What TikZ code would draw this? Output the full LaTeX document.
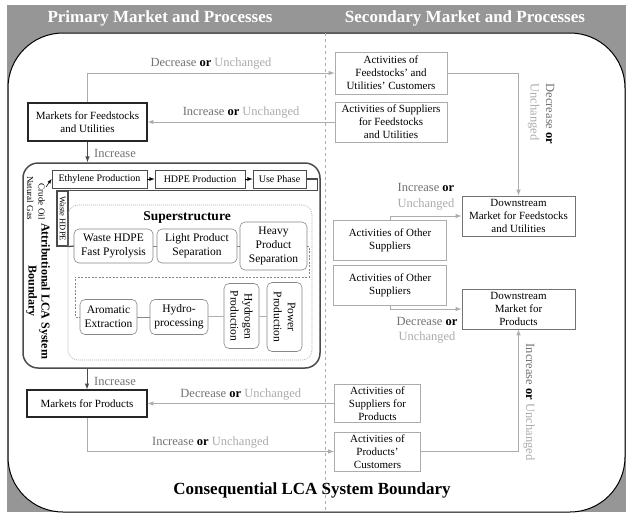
\documentclass[tikz,border=0pt]{standalone}
\usepackage{fontspec}
\setmainfont{Liberation Serif}
\usepackage{tikz}
\usetikzlibrary{arrows,shapes}
\definecolor{hdrgray}{RGB}{150,150,150}
\definecolor{midgray}{RGB}{115,115,115}
\definecolor{palegray}{RGB}{172,172,172}
\definecolor{darkline}{RGB}{75,75,75}
\definecolor{unitgray}{RGB}{135,135,135}
\newcommand{\hdrfont}{\fontsize{17}{20}\bfseries\selectfont}
\newcommand{\bndfont}{\fontsize{17}{20}\bfseries\selectfont}
\newcommand{\boxfont}{\fontsize{11}{13}\selectfont}
\newcommand{\procfont}{\fontsize{10}{12}\selectfont}
\newcommand{\unitfont}{\fontsize{11.5}{14}\selectfont}
\newcommand{\labfont}{\fontsize{12.5}{15.5}\selectfont}
\newcommand{\attrfont}{\fontsize{12}{13}\bfseries\selectfont}
\newcommand{\superfont}{\fontsize{13.5}{16}\bfseries\selectfont}
\newcommand{\feedfont}{\fontsize{9}{11.5}\selectfont}
\newcommand{\wastefont}{\fontsize{8.5}{10}\selectfont}
\newcommand{\trend}[1]{\textcolor{midgray}{#1} \textbf{or} \textcolor{palegray}{Unchanged}}
\newcommand{\trendtwo}[1]{\textcolor{midgray}{#1} \textbf{or}\\\textcolor{palegray}{Unchanged}}

\begin{document}
\begin{tikzpicture}[x=1pt, y=-1pt,
        mktbox/.style={draw=black!85, line width=1.3pt, fill=white, align=center, font=\boxfont, inner sep=1pt},
        actbox/.style={draw=palegray, line width=1pt, fill=white, align=center, font=\boxfont, inner sep=1pt},
        dsbox/.style={draw=midgray, line width=1pt, fill=white, align=center, font=\boxfont, inner sep=1pt},
        procbox/.style={draw=darkline, line width=0.8pt, minimum height=18pt, font=\procfont, inner sep=1pt},
        unitbox/.style={draw=unitgray, line width=0.6pt, rounded corners=5pt, align=center, font=\unitfont, inner sep=1pt},
        link/.style={draw=palegray, line width=1pt, -latex},
        incr/.style={draw=darkline, line width=1pt, -latex},
        unitlink/.style={draw=unitgray, line width=0.5pt},
        trendlab/.style={font=\labfont, inner sep=1pt}]
                %\draw[help lines] (0,0) grid (627,515);
                \useasboundingbox (0,0) rectangle (627,515);
                \fill[hdrgray] (7,5) rectangle (626,512);
                \draw[fill=white, line width=1pt, rounded corners=55pt] (8,33) rectangle (625,512);
                \draw[palegray, dashed, line width=0.6pt] (325,33) -- (325,512);
                \node[font=\hdrfont, text=white] (primhdr) at (160,18) {Primary Market and Processes};
                \node[font=\hdrfont, text=white] (sechdr) at (465,18) {Secondary Market and Processes};
                \node[font=\bndfont] (conslab) at (312,490) {Consequential LCA System Boundary};

                % primary market
                \node[mktbox, minimum width=119pt, minimum height=38pt] (mktfeed) at (87.5,122) {Markets for Feedstocks\\and Utilities};
                \node[mktbox, minimum width=120pt, minimum height=27pt] (mktprod) at (87,403.5) {Markets for Products};

                % attributional boundary
                \node[draw=darkline, line width=1.5pt, rounded corners=15pt, minimum width=297pt, minimum height=205pt] (attr) at (171.5,265.5) {};
                \node[rotate=-90, align=center, font=\attrfont] (attrlab) at (38,291) {Attributional LCA System\\Boundary};
                \node[rotate=-90, align=right, font=\feedfont] (crude) at (36,198) {Crude Oil\\Natural Gas};
                \coordinate (crudetip) at (46,187);
                \node[procbox, minimum width=95pt] (eth) at (99.5,179) {Ethylene Production};
                \node[procbox, minimum width=90pt] (hdpe) at (200,179) {HDPE Production};
                \node[procbox, minimum width=53pt] (use) at (279.5,179) {Use Phase};
                \node[draw=darkline, line width=1.2pt, minimum width=11pt, minimum height=55pt, inner sep=0pt] (waste) at (62.5,218.5) {\rotatebox{-90}{\wastefont Waste HDPE}};

                % superstructure
                \node[draw=palegray, dash pattern=on 1pt off 1pt, line width=0.6pt, rounded corners=10pt, minimum width=244pt, minimum height=155pt] (super) at (190,282.5) {};
                \node[font=\superfont] (superlab) at (187,217) {Superstructure};
                \node[unitbox, minimum width=79pt, minimum height=34pt] (pyro) at (113.5,246) {Waste HDPE\\Fast Pyrolysis};
                \node[unitbox, minimum width=80pt, minimum height=34pt] (light) at (197,246) {Light Product\\Separation};
                \node[unitbox, minimum width=67pt, minimum height=48pt] (heavy) at (273.5,246) {Heavy\\Product\\Separation};
                \node[unitbox, minimum width=57pt, minimum height=35pt] (arom) at (108.5,317) {Aromatic\\Extraction};
                \node[unitbox, minimum width=58pt, minimum height=35pt] (hydro) at (179,317) {Hydro-\\processing};
                \node[unitbox, rotate=-90, minimum width=65pt, minimum height=35pt] (htwo) at (241.5,316) {Hydrogen\\Production};
                \node[unitbox, rotate=-90, minimum width=69pt, minimum height=35pt] (power) at (284.5,317) {Power\\Production};

                % secondary market
                \node[actbox, minimum width=112pt, minimum height=42pt] (actcust) at (391,73) {Activities of\\Feedstocks' and\\Utilities' Customers};
                \node[actbox, minimum width=112pt, minimum height=40pt] (actsupp) at (391,122) {Activities of Suppliers\\for Feedstocks\\and Utilities};
                \node[actbox, minimum width=113pt, minimum height=40pt] (othera) at (390,240) {Activities of Other\\Suppliers};
                \node[actbox, minimum width=113pt, minimum height=40pt] (otherb) at (390,285) {Activities of Other\\Suppliers};
                \node[actbox, minimum width=86pt, minimum height=38pt] (prodsupp) at (377.5,403.5) {Activities of\\Suppliers for\\Products};
                \node[actbox, minimum width=86pt, minimum height=39pt] (prodcust) at (377.5,451.5) {Activities of\\Products'\\Customers};
                \node[dsbox, minimum width=113pt, minimum height=40pt] (dsfeed) at (518.5,216) {Downstream\\Market for Feedstocks\\and Utilities};
                \node[dsbox, minimum width=113pt, minimum height=40pt] (dsprod) at (518.5,309) {Downstream\\Market for\\Products};

                % connectors
                \draw[incr] (mktfeed.south) -- (mktfeed.south |- attr.north);
                \draw[incr] (attr.south -| mktprod.north) -- (mktprod.north);
                \node[trendlab, text=midgray, anchor=west] (incra) at (93,153) {Increase};
                \node[trendlab, text=midgray, anchor=west] (incrb) at (93,381) {Increase};
                \draw[link] (mktfeed.north) |- node[pos=0.75, above=2pt, trendlab] {\trend{Decrease}} (actcust.west);
                \draw[link] (actsupp.west) -- node[above=2pt, trendlab] {\trend{Increase}} (mktfeed.east);
                \draw[link] (prodsupp.west) -- node[above=2pt, trendlab] {\trend{Decrease}} (mktprod.east);
                \draw[link] (mktprod.south) |- node[pos=0.75, above=2pt, trendlab] {\trend{Increase}} (prodcust.west);
                \draw[link] (actcust.east) -| (dsfeed.north);
                \draw[link] (prodcust.east) -| (dsprod.south);
                \draw[link] (othera.north) |- (dsfeed.west);
                \draw[link] (otherb.south) |- (dsprod.west);
                \node[trendlab, rotate=-90, align=left] (trendc) at (541,114) {\trendtwo{Decrease}};
                \node[trendlab, rotate=-90] (trendd) at (529,402) {\trend{Increase}};
                \node[trendlab, align=center] (trende) at (426,197) {\trendtwo{Increase}};
                \node[trendlab, align=center] (trendf) at (427,330) {\trendtwo{Decrease}};

                % process chain
                \draw[-latex, line width=0.8pt] (eth) -- (hdpe);
                \draw[-latex, line width=0.8pt] (hdpe) -- (use);
                \draw[-latex, line width=0.6pt] (crudetip) -- (eth.west);
                \draw[darkline, line width=1.2pt] (use.east) -- ++(11,0) |- (waste.north east);
                \draw[darkline, line width=1.2pt] (waste.south east) -- (pyro.west);
                \draw[unitlink] (pyro) -- (light);
                \draw[unitlink] (light) -- (heavy);
                \draw[unitlink] (arom) -- (hydro);
                \draw[unitlink] (hydro) -- (htwo);
                \draw[unitlink] (htwo) -- (power);
                \draw[unitlink, dash pattern=on 2pt off 1.5pt] (heavy.east) -- ++(2,0) |- (75,277) |- (arom.west);
        \end{tikzpicture}
\end{document}
